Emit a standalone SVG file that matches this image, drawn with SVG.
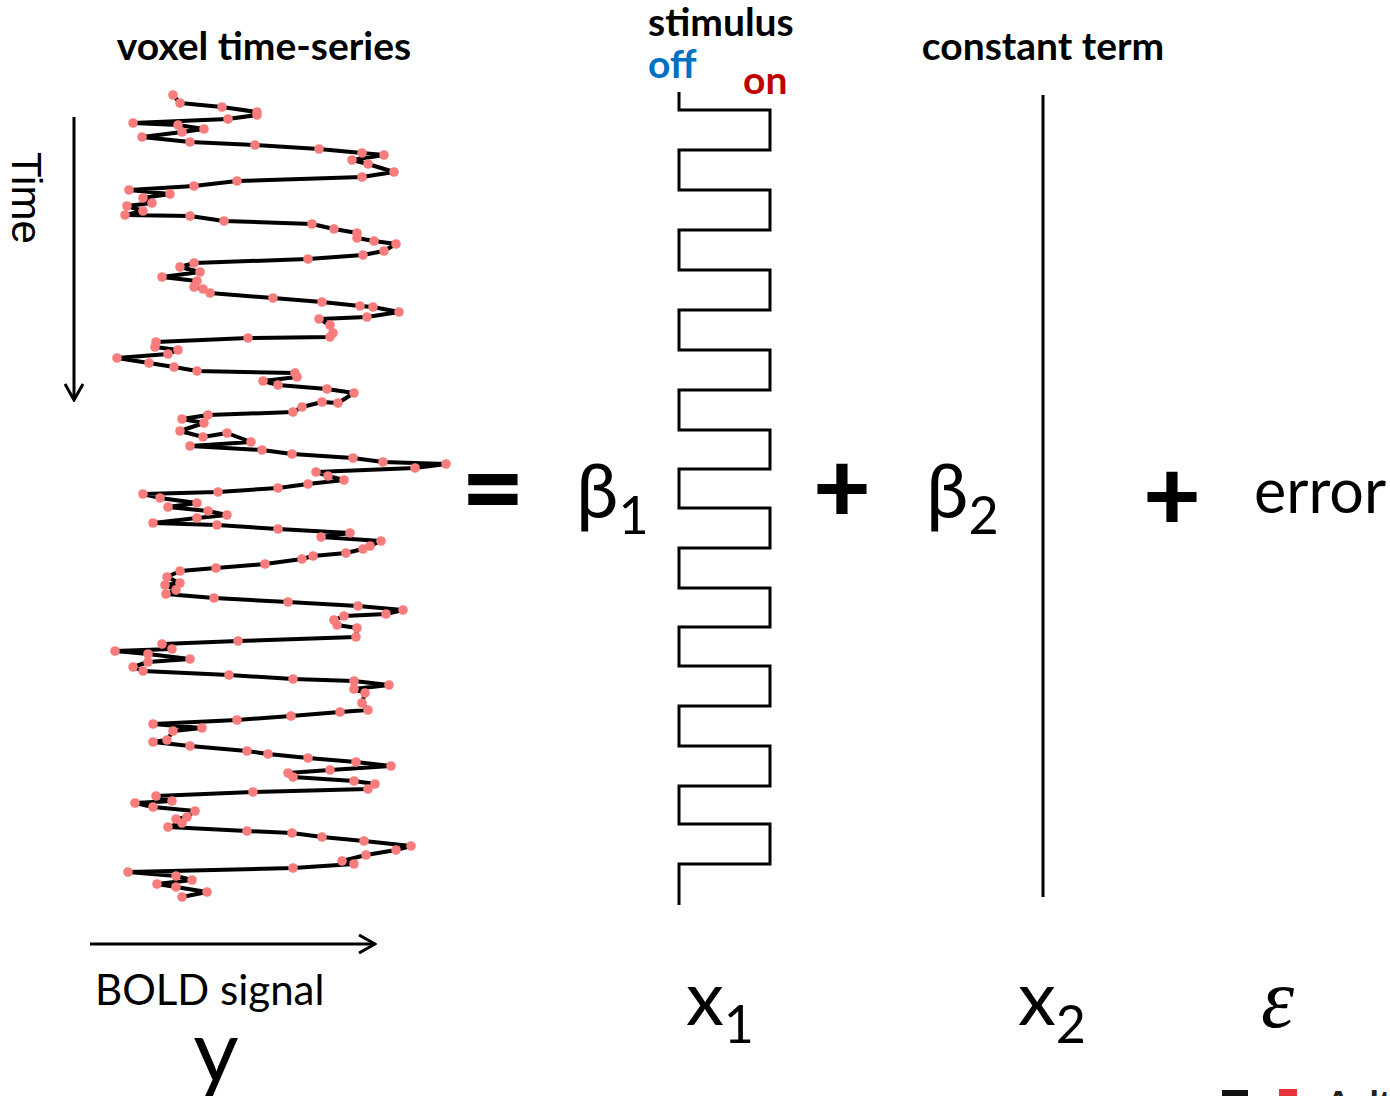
<svg xmlns="http://www.w3.org/2000/svg" width="1390" height="1096" viewBox="0 0 1390 1096">
  <style>
    .hdr { font-family: Lato, "Open Sans", sans-serif; font-weight: bold; font-size: 39px; fill: #000; }
    .lbl { font-family: Lato, "Open Sans", sans-serif; fill: #000; }
    .op { font-family: Lato, "Open Sans", sans-serif; font-weight: 900; fill: #000; }
    .ln { fill: none; stroke: #000; stroke-width: 3; }
    .ts { fill: none; stroke: #000; stroke-width: 4; stroke-linejoin: round; }
    .dot { fill: #f97c7c; }
  </style>
  <defs>
    <marker id="chev" viewBox="0 0 20 20" refX="18" refY="10" markerWidth="20" markerHeight="20" markerUnits="userSpaceOnUse" orient="auto">
      <path d="M2,1 L18,10 L2,19" fill="none" stroke="#000" stroke-width="3"/>
    </marker>
    <circle id="d" r="4.8" class="dot"/>
  </defs>
  <rect width="1390" height="1096" fill="#fff"/>

  <!-- axis arrows -->
  <g id="connectors">
    <line class="ln" x1="74" y1="117" x2="74" y2="400" marker-end="url(#chev)"/>
    <line class="ln" x1="90" y1="944" x2="375" y2="944" marker-end="url(#chev)"/>
  </g>

  <!-- y: voxel time-series -->
  <g id="timeseries">
    <text class="hdr" x="264" y="60" text-anchor="middle">voxel time-series</text>
    <text class="lbl" transform="translate(12,152) rotate(90)" style="font-family:'Liberation Sans',Arial,sans-serif;font-size:42px">Time</text>
    <polyline id="sig" class="ts" points="173,95 180,103 222,107 257,112 257,115 228,119 133,123 178,125 204,129 182,132 142,137 190,142 255,145 319,149 362,153 384,155 352,160 368,164 394,172 362,177 237,181 194,186 129,190 170,194 143,198 152,203 127,206 143,211 125,215 190,216 224,221 312,224 334,229 357,233 357,238 374,241 396,244 384,251 363,255 308,259 194,263 180,267 200,272 162,277 197,281 194,287 203,289 210,293 273,298 322,302 360,306 373,307 399,312 367,317 319,319 330,325 333,333 330,337 248,338 156,342 155,347 178,350 168,354 117,358 149,363 174,367 197,371 295,373 297,377 263,381 278,385 327,389 354,393 338,403 322,402 302,407 293,412 208,415 182,419 204,423 180,431 203,437 227,433 251,442 190,446 262,450 292,454 353,458 383,462 446,464 415,468 316,472 328,476 344,480 308,484 278,488 218,492 143,494 160,498 197,503 168,507 208,511 227,515 197,518 153,523 217,525 278,529 350,533 321,537 381,541 370,546 363,549 346,553 313,556 302,559 265,564 216,568 180,571 167,577 180,583 165,585 176,590 166,594 214,598 288,602 358,606 403,610 386,614 344,616 334,620 337,625 357,628 356,637 238,641 162,644 172,649 115,651 148,654 190,659 148,662 133,667 143,671 229,675 293,679 354,681 389,685 354,689 365,693 362,703 368,710 340,712 291,716 237,720 153,724 202,728 173,731 167,740 153,742 190,746 247,751 268,754 308,758 356,762 391,766 330,770 288,773 293,777 354,781 375,784 368,789 253,792 156,796 172,801 135,803 153,807 195,811 187,817 176,819 182,823 168,827 247,831 292,833 322,837 364,841 411,846 396,850 366,855 342,861 354,864 293,868 128,872 176,876 192,880 157,884 176,887 207,892 182,897"/>
    <g id="samples">
      <use href="#d" x="173" y="95"/><use href="#d" x="180" y="103"/><use href="#d" x="222" y="107"/><use href="#d" x="257" y="112"/><use href="#d" x="257" y="115"/><use href="#d" x="228" y="119"/><use href="#d" x="133" y="123"/><use href="#d" x="178" y="125"/><use href="#d" x="204" y="129"/><use href="#d" x="182" y="132"/><use href="#d" x="142" y="137"/><use href="#d" x="190" y="142"/><use href="#d" x="255" y="145"/><use href="#d" x="319" y="149"/><use href="#d" x="362" y="153"/><use href="#d" x="384" y="155"/><use href="#d" x="352" y="160"/><use href="#d" x="368" y="164"/><use href="#d" x="394" y="172"/><use href="#d" x="362" y="177"/><use href="#d" x="237" y="181"/><use href="#d" x="194" y="186"/><use href="#d" x="129" y="190"/><use href="#d" x="170" y="194"/><use href="#d" x="143" y="198"/><use href="#d" x="152" y="203"/><use href="#d" x="127" y="206"/><use href="#d" x="143" y="211"/><use href="#d" x="125" y="215"/><use href="#d" x="190" y="216"/><use href="#d" x="224" y="221"/><use href="#d" x="312" y="224"/><use href="#d" x="334" y="229"/><use href="#d" x="357" y="233"/><use href="#d" x="357" y="238"/><use href="#d" x="374" y="241"/><use href="#d" x="396" y="244"/><use href="#d" x="384" y="251"/><use href="#d" x="363" y="255"/><use href="#d" x="308" y="259"/><use href="#d" x="194" y="263"/><use href="#d" x="180" y="267"/><use href="#d" x="200" y="272"/><use href="#d" x="162" y="277"/><use href="#d" x="197" y="281"/><use href="#d" x="194" y="287"/><use href="#d" x="203" y="289"/><use href="#d" x="210" y="293"/><use href="#d" x="273" y="298"/><use href="#d" x="322" y="302"/><use href="#d" x="360" y="306"/><use href="#d" x="373" y="307"/><use href="#d" x="399" y="312"/><use href="#d" x="367" y="317"/><use href="#d" x="319" y="319"/><use href="#d" x="330" y="325"/><use href="#d" x="333" y="333"/><use href="#d" x="330" y="337"/><use href="#d" x="248" y="338"/><use href="#d" x="156" y="342"/><use href="#d" x="155" y="347"/><use href="#d" x="178" y="350"/><use href="#d" x="168" y="354"/><use href="#d" x="117" y="358"/><use href="#d" x="149" y="363"/><use href="#d" x="174" y="367"/><use href="#d" x="197" y="371"/><use href="#d" x="295" y="373"/><use href="#d" x="297" y="377"/><use href="#d" x="263" y="381"/><use href="#d" x="278" y="385"/><use href="#d" x="327" y="389"/><use href="#d" x="354" y="393"/><use href="#d" x="338" y="403"/><use href="#d" x="322" y="402"/><use href="#d" x="302" y="407"/><use href="#d" x="293" y="412"/><use href="#d" x="208" y="415"/><use href="#d" x="182" y="419"/><use href="#d" x="204" y="423"/><use href="#d" x="180" y="431"/><use href="#d" x="203" y="437"/><use href="#d" x="227" y="433"/><use href="#d" x="251" y="442"/><use href="#d" x="190" y="446"/><use href="#d" x="262" y="450"/><use href="#d" x="292" y="454"/><use href="#d" x="353" y="458"/><use href="#d" x="383" y="462"/><use href="#d" x="446" y="464"/><use href="#d" x="415" y="468"/><use href="#d" x="316" y="472"/><use href="#d" x="328" y="476"/><use href="#d" x="344" y="480"/><use href="#d" x="308" y="484"/><use href="#d" x="278" y="488"/><use href="#d" x="218" y="492"/><use href="#d" x="143" y="494"/><use href="#d" x="160" y="498"/><use href="#d" x="197" y="503"/><use href="#d" x="168" y="507"/><use href="#d" x="208" y="511"/><use href="#d" x="227" y="515"/><use href="#d" x="197" y="518"/><use href="#d" x="153" y="523"/><use href="#d" x="217" y="525"/><use href="#d" x="278" y="529"/><use href="#d" x="350" y="533"/><use href="#d" x="321" y="537"/><use href="#d" x="381" y="541"/><use href="#d" x="370" y="546"/><use href="#d" x="363" y="549"/><use href="#d" x="346" y="553"/><use href="#d" x="313" y="556"/><use href="#d" x="302" y="559"/><use href="#d" x="265" y="564"/><use href="#d" x="216" y="568"/><use href="#d" x="180" y="571"/><use href="#d" x="167" y="577"/><use href="#d" x="180" y="583"/><use href="#d" x="165" y="585"/><use href="#d" x="176" y="590"/><use href="#d" x="166" y="594"/><use href="#d" x="214" y="598"/><use href="#d" x="288" y="602"/><use href="#d" x="358" y="606"/><use href="#d" x="403" y="610"/><use href="#d" x="386" y="614"/><use href="#d" x="344" y="616"/><use href="#d" x="334" y="620"/><use href="#d" x="337" y="625"/><use href="#d" x="357" y="628"/><use href="#d" x="356" y="637"/><use href="#d" x="238" y="641"/><use href="#d" x="162" y="644"/><use href="#d" x="172" y="649"/><use href="#d" x="115" y="651"/><use href="#d" x="148" y="654"/><use href="#d" x="190" y="659"/><use href="#d" x="148" y="662"/><use href="#d" x="133" y="667"/><use href="#d" x="143" y="671"/><use href="#d" x="229" y="675"/><use href="#d" x="293" y="679"/><use href="#d" x="354" y="681"/><use href="#d" x="389" y="685"/><use href="#d" x="354" y="689"/><use href="#d" x="365" y="693"/><use href="#d" x="362" y="703"/><use href="#d" x="368" y="710"/><use href="#d" x="340" y="712"/><use href="#d" x="291" y="716"/><use href="#d" x="237" y="720"/><use href="#d" x="153" y="724"/><use href="#d" x="202" y="728"/><use href="#d" x="173" y="731"/><use href="#d" x="167" y="740"/><use href="#d" x="153" y="742"/><use href="#d" x="190" y="746"/><use href="#d" x="247" y="751"/><use href="#d" x="268" y="754"/><use href="#d" x="308" y="758"/><use href="#d" x="356" y="762"/><use href="#d" x="391" y="766"/><use href="#d" x="330" y="770"/><use href="#d" x="288" y="773"/><use href="#d" x="293" y="777"/><use href="#d" x="354" y="781"/><use href="#d" x="375" y="784"/><use href="#d" x="368" y="789"/><use href="#d" x="253" y="792"/><use href="#d" x="156" y="796"/><use href="#d" x="172" y="801"/><use href="#d" x="135" y="803"/><use href="#d" x="153" y="807"/><use href="#d" x="195" y="811"/><use href="#d" x="187" y="817"/><use href="#d" x="176" y="819"/><use href="#d" x="182" y="823"/><use href="#d" x="168" y="827"/><use href="#d" x="247" y="831"/><use href="#d" x="292" y="833"/><use href="#d" x="322" y="837"/><use href="#d" x="364" y="841"/><use href="#d" x="411" y="846"/><use href="#d" x="396" y="850"/><use href="#d" x="366" y="855"/><use href="#d" x="342" y="861"/><use href="#d" x="354" y="864"/><use href="#d" x="293" y="868"/><use href="#d" x="128" y="872"/><use href="#d" x="176" y="876"/><use href="#d" x="192" y="880"/><use href="#d" x="157" y="884"/><use href="#d" x="176" y="887"/><use href="#d" x="207" y="892"/><use href="#d" x="182" y="897"/>
    </g>
    <text class="lbl" x="95" y="1005" style="font-size:42px">BOLD signal</text>
    <text class="lbl" x="216" y="1082" text-anchor="middle" style="font-size:88px">y</text>
  </g>

  <!-- equals sign -->
  <g id="equals">
    <text class="op" x="493" y="527" text-anchor="middle" style="font-size:110px">=</text>
  </g>

  <!-- beta 1 and stimulus regressor x1 -->
  <g id="beta1">
    <text class="lbl" x="576" y="518" style="font-size:76px">β<tspan dy="16" style="font-size:52px">1</tspan></text>
  </g>
  <g id="x1">
    <text class="hdr" x="648" y="36">stimulus</text>
    <text class="hdr" x="648" y="78" style="fill:#0070c0">off</text>
    <text class="hdr" x="743" y="94" style="fill:#c00000">on</text>
    <path class="ln" d="M679,92 V110 H770 V150 H679 V190 H770 V230 H679 V270 H770 V310 H679 V350 H770 V390 H679 V430 H770 V469 H679 V508 H770 V548 H679 V588 H770 V627 H679 V666 H770 V706 H679 V746 H770 V786 H679 V824 H770 V864 H679 V905"/>
    <text class="lbl" x="686" y="1025" style="font-size:76px">x<tspan dy="18" style="font-size:52px">1</tspan></text>
  </g>

  <!-- plus -->
  <g id="plus1">
    <text class="op" x="842" y="522" text-anchor="middle" style="font-size:100px">+</text>
  </g>

  <!-- beta 2 and constant regressor x2 -->
  <g id="beta2">
    <text class="lbl" x="926" y="518" style="font-size:76px">β<tspan dy="16" style="font-size:52px">2</tspan></text>
  </g>
  <g id="x2">
    <text class="hdr" x="1043" y="60" text-anchor="middle">constant term</text>
    <line class="ln" x1="1043" y1="95" x2="1043" y2="897"/>
    <text class="lbl" x="1018" y="1025" style="font-size:76px">x<tspan dy="18" style="font-size:52px">2</tspan></text>
  </g>

  <!-- plus -->
  <g id="plus2">
    <text class="op" x="1172" y="530" text-anchor="middle" style="font-size:100px">+</text>
  </g>

  <!-- error term -->
  <g id="error">
    <text class="lbl" x="1254" y="513" style="font-size:61px">error</text>
    <text x="1261" y="1027" style="font-family:'Liberation Serif','DejaVu Serif',serif;font-style:italic;font-size:84px;fill:#000">ε</text>
  </g>

  <!-- logo strip at the bottom edge -->
  <g id="logo">
    <rect x="1222" y="1090" width="26" height="8" fill="#111"/>
    <rect x="1279" y="1089" width="18" height="9" fill="#e8323c"/>
    <text x="1326" y="1114" style="font-family:'Liberation Sans',Arial,sans-serif;font-weight:bold;font-size:34px;fill:#222">Aalto</text>
  </g>
</svg>
